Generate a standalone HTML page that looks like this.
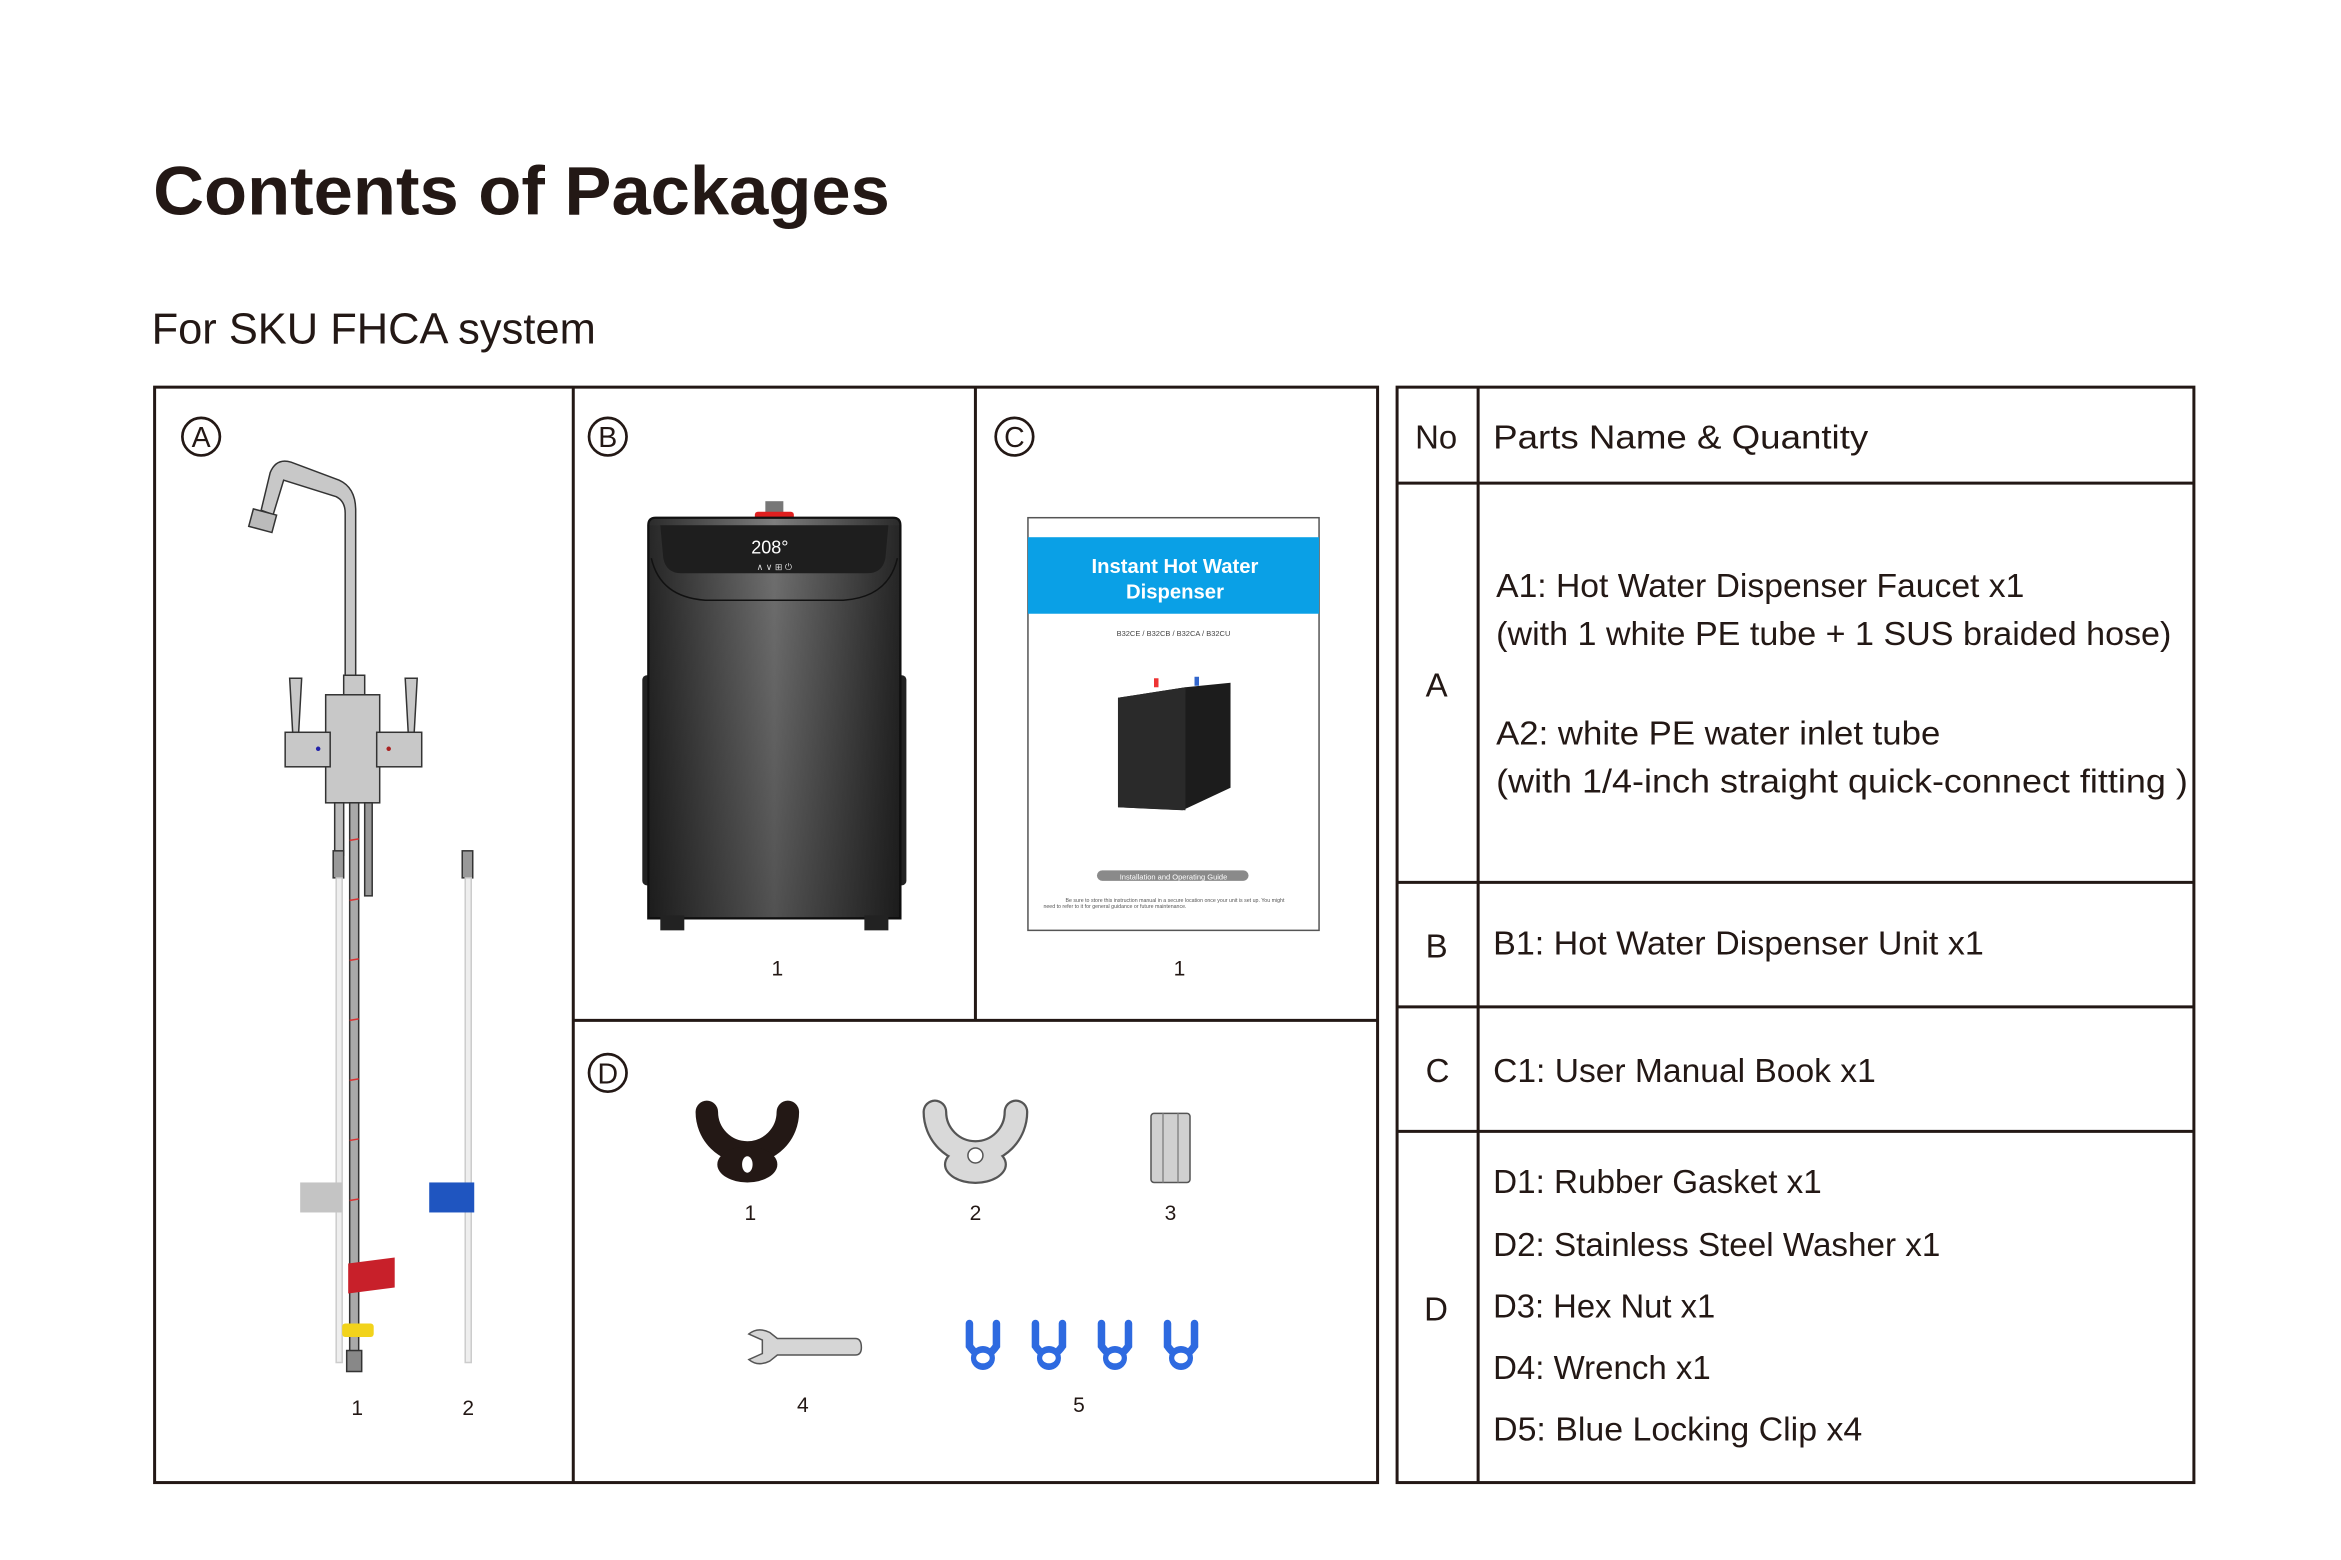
<!DOCTYPE html>
<html><head><meta charset="utf-8"><style>
html,body{margin:0;padding:0;background:#fff;width:2341px;height:1560px;overflow:hidden}
svg{display:block}
text{font-family:"Liberation Sans",sans-serif;fill:#231815}
</style></head><body>
<svg width="2341" height="1560" viewBox="0 0 1560 1039.6" xmlns="http://www.w3.org/2000/svg">
<defs>
<linearGradient id="body" x1="0" x2="1" y1="0" y2="0">
<stop offset="0" stop-color="#2b2b2b"/><stop offset="0.5" stop-color="#7e7e7e"/><stop offset="1" stop-color="#2a2a2a"/></linearGradient>
<linearGradient id="bodyv" x1="0" x2="0" y1="0" y2="1">
<stop offset="0" stop-color="#000" stop-opacity="0.1"/><stop offset="1" stop-color="#000" stop-opacity="0.35"/></linearGradient>
</defs>
<rect width="1560" height="1040" fill="#fff"/>
<text x="102" y="143" font-size="46" font-weight="bold" textLength="491" lengthAdjust="spacingAndGlyphs">Contents of Packages</text>
<text x="101" y="229" font-size="29" textLength="296" lengthAdjust="spacingAndGlyphs">For SKU FHCA system</text>

<g fill="none" stroke="#231815" stroke-width="2">
<rect x="103" y="258" width="815" height="730"/>
<line x1="382" y1="258" x2="382" y2="988"/>
<line x1="650" y1="258" x2="650" y2="680"/>
<line x1="382" y1="680" x2="918" y2="680"/>
<rect x="931" y="258" width="531" height="730"/>
<line x1="985" y1="258" x2="985" y2="988"/>
<line x1="931" y1="322" x2="1462" y2="322"/>
<line x1="931" y1="588" x2="1462" y2="588"/>
<line x1="931" y1="671" x2="1462" y2="671"/>
<line x1="931" y1="754" x2="1462" y2="754"/>
</g>

<g fill="none" stroke="#231815" stroke-width="1.8">
<circle cx="134" cy="291" r="12.5"/><circle cx="405" cy="291" r="12.5"/><circle cx="676" cy="291" r="12.5"/><circle cx="405" cy="715" r="12.5"/>
</g>
<g font-size="19" text-anchor="middle">
<text x="134" y="298">A</text><text x="405" y="298">B</text><text x="676" y="298">C</text><text x="405" y="722">D</text>
</g>

<g font-size="14" text-anchor="middle">
<text x="238" y="943">1</text><text x="312" y="943">2</text>
<text x="518" y="650">1</text><text x="786" y="650">1</text>
<text x="500" y="813">1</text><text x="650" y="813">2</text><text x="780" y="813">3</text>
<text x="535" y="941">4</text><text x="719" y="941">5</text>
</g>

<!-- faucet A -->
<g stroke="#333" stroke-width="1">
<path d="M237,452 L237,340 Q237,325 226,320 L194,308 Q184,305 180,315 L174,340 L182,343 L189,320 L224,331 Q230,334 230,342 L230,452 Z" fill="#c8c8c8"/>
<rect x="167" y="341" width="16" height="12" fill="#bbb" transform="rotate(15 175 347)"/>
<rect x="229" y="450" width="14" height="14" fill="#c8c8c8"/>
<rect x="217" y="463" width="36" height="72" fill="#c8c8c8"/>
<rect x="190" y="488" width="30" height="23" fill="#c8c8c8"/>
<rect x="251" y="488" width="30" height="23" fill="#c8c8c8"/>
<path d="M193,452 L201,452 L199,488 L195,488 Z" fill="#c8c8c8"/>
<path d="M270,452 L278,452 L276,488 L272,488 Z" fill="#c8c8c8"/>
<rect x="223" y="535" width="6" height="35" fill="#bbb"/>
<rect x="233" y="535" width="6" height="375" fill="#a9a9a9"/>
<rect x="243" y="535" width="5" height="62" fill="#999"/>
<rect x="222" y="567" width="7" height="18" fill="#999"/>
<rect x="224" y="585" width="4" height="323" fill="#eee" stroke="#ccc"/>
<rect x="308" y="567" width="7" height="18" fill="#999"/>
<rect x="310" y="585" width="4" height="323" fill="#eee" stroke="#ccc"/>
<rect x="231" y="900" width="10" height="14" fill="#888"/>
</g>
<g stroke="#d33" stroke-width="1">
<line x1="233" y1="560" x2="239" y2="559"/><line x1="233" y1="600" x2="239" y2="599"/><line x1="233" y1="640" x2="239" y2="639"/><line x1="233" y1="680" x2="239" y2="679"/><line x1="233" y1="720" x2="239" y2="719"/><line x1="233" y1="760" x2="239" y2="759"/><line x1="233" y1="800" x2="239" y2="799"/>
</g>
<circle cx="212" cy="499" r="1.5" fill="#22a"/><circle cx="259" cy="499" r="1.5" fill="#a22"/>
<rect x="200" y="788" width="28" height="20" fill="#c4c4c4"/>
<rect x="286" y="788" width="30" height="20" fill="#1f55c0"/>
<path d="M232,842 L263,838 L263,858 L232,862 Z" fill="#c8202a"/>
<rect x="228" y="882" width="21" height="9" rx="2" fill="#f2d31b"/>

<!-- dispenser B -->
<rect x="510" y="334" width="12" height="8" fill="#777"/>
<rect x="503" y="341" width="26" height="7" rx="2" fill="#e02020"/>
<rect x="428" y="450" width="176" height="140" fill="#222" rx="3"/>
<path d="M432,350 Q432,345 437,345 L595,345 Q600,345 600,350 L600,612 L432,612 Z" fill="url(#body)" stroke="#111" stroke-width="1.5"/>
<path d="M432,350 L600,350 L600,612 L432,612 Z" fill="url(#bodyv)"/>
<path d="M440,350 L592,350 L590,372 Q588,382 578,382 L454,382 Q444,382 442,372 Z" fill="#1e1e1e"/>
<path d="M434,372 Q440,398 470,400 L562,400 Q592,398 598,372" fill="none" stroke="#111" stroke-width="1"/>
<text x="513" y="369" font-size="12" text-anchor="middle" style="fill:#fff">208°</text>
<text x="516" y="380" font-size="6" text-anchor="middle" style="fill:#ddd">∧  ∨  ⊞  ⏻</text>
<rect x="440" y="610" width="16" height="10" fill="#222"/><rect x="576" y="610" width="16" height="10" fill="#222"/>

<!-- manual C -->
<rect x="685" y="345" width="194" height="275" fill="#fff" stroke="#555" stroke-width="1"/>
<rect x="685" y="358" width="194" height="51" fill="#0aa0e6"/>
<text x="783" y="382" font-size="13.5" font-weight="bold" text-anchor="middle" style="fill:#fff">Instant Hot Water</text>
<text x="783" y="399" font-size="13.5" font-weight="bold" text-anchor="middle" style="fill:#fff">Dispenser</text>
<text x="782" y="424" font-size="5" text-anchor="middle" style="fill:#444">B32CE / B32CB / B32CA / B32CU</text>
<path d="M745,465 L790,458 L820,455 L820,525 L788,540 L745,538 Z" fill="#1c1c1c"/>
<path d="M745,465 L790,458 L790,540 L745,538 Z" fill="#2a2a2a"/>
<rect x="769" y="452" width="3" height="6" fill="#e33"/><rect x="796" y="451" width="3" height="6" fill="#36c"/>
<rect x="731" y="580" width="101" height="7" rx="3.5" fill="#8a8a8a"/>
<text x="782" y="586" font-size="5" text-anchor="middle" style="fill:#fff">Installation and Operating Guide</text>
<text x="783" y="601" font-size="3.5" text-anchor="middle" style="fill:#555">Be sure to store this instruction manual in a secure location once your unit is set up. You might</text>
<text x="743" y="605" font-size="3.5" text-anchor="middle" style="fill:#555">need to refer to it for general guidance or future maintenance.</text>

<!-- D parts -->
<path d="M471,741 A27,27 0 1 0 525,741" fill="none" stroke="#231815" stroke-width="15" stroke-linecap="round"/>
<ellipse cx="498" cy="776" rx="20" ry="12" fill="#231815"/>
<ellipse cx="498" cy="776" rx="3.5" ry="5.5" fill="#fff"/>
<path d="M623,741 A27,27 0 1 0 677,741" fill="none" stroke="#555" stroke-width="16.5" stroke-linecap="round"/>
<ellipse cx="650" cy="776" rx="21" ry="13" fill="#555"/>
<path d="M623,741 A27,27 0 1 0 677,741" fill="none" stroke="#d9d9d9" stroke-width="13.5" stroke-linecap="round"/>
<ellipse cx="650" cy="776" rx="19.5" ry="11.5" fill="#d9d9d9"/>
<circle cx="650" cy="770" r="5" fill="#fff" stroke="#555"/>
<rect x="767" y="742" width="26" height="46" rx="2" fill="#d0d0d0" stroke="#555"/>
<line x1="775" y1="742" x2="775" y2="788" stroke="#888"/><line x1="785" y1="742" x2="785" y2="788" stroke="#888"/>
<path d="M499,889 Q505,884 513,888 L518,892 L570,892 Q574,892 574,898 Q574,903 570,903 L518,903 L513,907 Q505,911 499,906 L508,902 L508,893 Z" fill="#d6d6d6" stroke="#555" stroke-width="1"/>
<g fill="none" stroke="#2e6ae0" stroke-width="5" stroke-linecap="round">
<path d="M646,882 L646,897 Q655,910 664,897 L664,882"/>
<path d="M690,882 L690,897 Q699,910 708,897 L708,882"/>
<path d="M734,882 L734,897 Q743,910 752,897 L752,882"/>
<path d="M778,882 L778,897 Q787,910 796,897 L796,882"/>
</g>
<g fill="#2e6ae0">
<circle cx="655" cy="905" r="8"/><circle cx="699" cy="905" r="8"/><circle cx="743" cy="905" r="8"/><circle cx="787" cy="905" r="8"/>
</g>
<g fill="#fff">
<ellipse cx="655" cy="905" rx="4.5" ry="3.5"/><ellipse cx="699" cy="905" rx="4.5" ry="3.5"/><ellipse cx="743" cy="905" rx="4.5" ry="3.5"/><ellipse cx="787" cy="905" rx="4.5" ry="3.5"/>
</g>

<!-- table text -->
<g font-size="22">
<text x="943" y="299" textLength="28" lengthAdjust="spacingAndGlyphs">No</text>
<text x="995" y="299" textLength="250" lengthAdjust="spacingAndGlyphs">Parts Name &amp; Quantity</text>
<text x="950" y="464">A</text>
<text x="997" y="398" textLength="352" lengthAdjust="spacingAndGlyphs">A1: Hot Water Dispenser Faucet x1</text>
<text x="997" y="430" textLength="450" lengthAdjust="spacingAndGlyphs">(with 1 white PE tube + 1 SUS braided hose)</text>
<text x="997" y="496" textLength="296" lengthAdjust="spacingAndGlyphs">A2: white PE water inlet tube</text>
<text x="997" y="528" textLength="461" lengthAdjust="spacingAndGlyphs">(with 1/4-inch straight quick-connect fitting )</text>
<text x="950" y="638">B</text>
<text x="995" y="636" textLength="327" lengthAdjust="spacingAndGlyphs">B1: Hot Water Dispenser Unit x1</text>
<text x="950" y="721">C</text>
<text x="995" y="721" textLength="255" lengthAdjust="spacingAndGlyphs">C1: User Manual Book x1</text>
<text x="949" y="880">D</text>
<text x="995" y="795" textLength="219" lengthAdjust="spacingAndGlyphs">D1: Rubber Gasket x1</text>
<text x="995" y="837" textLength="298" lengthAdjust="spacingAndGlyphs">D2: Stainless Steel Washer x1</text>
<text x="995" y="878" textLength="148" lengthAdjust="spacingAndGlyphs">D3: Hex Nut x1</text>
<text x="995" y="919" textLength="145" lengthAdjust="spacingAndGlyphs">D4: Wrench x1</text>
<text x="995" y="960" textLength="246" lengthAdjust="spacingAndGlyphs">D5: Blue Locking Clip x4</text>
</g>
</svg>
</body></html>
